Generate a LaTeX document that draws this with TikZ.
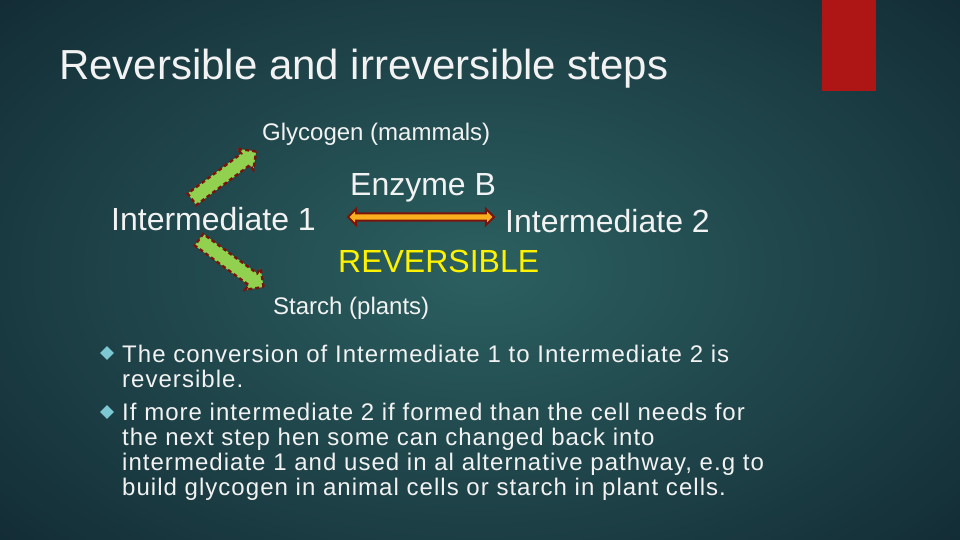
\documentclass[tikz,border=0pt]{standalone}
\usepackage{fontspec}
\setmainfont{Liberation Sans}
\newfontfamily\widesans[LetterSpace=4.3]{Liberation Sans}
\usepackage{tikz}
\usetikzlibrary{shapes.arrows,shapes.geometric}

\definecolor{slidebg}{RGB}{28,64,70}
\definecolor{slidein}{RGB}{44,96,96}
\definecolor{slideout}{RGB}{18,42,52}
\definecolor{barred}{RGB}{174,22,22}
\definecolor{leafgreen}{RGB}{146,208,80}
\definecolor{rimred}{RGB}{122,20,10}
\definecolor{amber}{RGB}{250,175,30}
\definecolor{bulletcyan}{RGB}{125,200,210}
\definecolor{plaintext}{RGB}{242,242,242}

\begin{document}
\begin{tikzpicture}[x=1pt, y=-1pt,
    txt/.style = {inner sep=0pt, anchor=base west, text=plaintext},
    big/.style = {txt, font=\fontsize{32}{36}\selectfont},
    small/.style = {txt, font=\fontsize{24}{28}\selectfont},
    para/.style = {txt, font=\widesans\fontsize{24}{25}\selectfont, align=left},
    branch/.style = {single arrow, fill=leafgreen, draw=rimred, dashed, dash pattern=on 4pt off 3pt,
        line width=2.4pt, inner xsep=0pt, inner ysep=6pt, single arrow head extend=6pt,
        minimum height=80pt, anchor=tail},
    swap/.style = {double arrow, fill=amber, draw=rimred, line width=2pt,
        inner xsep=0pt, inner ysep=2.6pt, double arrow head extend=4.5pt, minimum height=146pt},
    bullet/.style = {diamond, fill=bulletcyan, inner sep=0pt, minimum size=14pt}]

    % Background
    \useasboundingbox (0,0) rectangle (960,540);
    \fill[slidebg] (0,0) rectangle (960,540);
    \shade[inner color=slidein, outer color=slideout] (-200,-150) rectangle (1160,690);
    \fill[barred] (822,0) rectangle (876,91);

    % Nodes
    \node[txt, font=\fontsize{42}{46}\selectfont] (title) at (59,80) {Reversible and irreversible steps};
    \node[small] (glyc) at (262,141) {Glycogen (mammals)};
    \node[big] (int1) at (111,230) {Intermediate 1};
    \node[big] (enz) at (350,196) {Enzyme B};
    \node[big] (int2) at (505,232) {Intermediate 2};
    \node[big, text=yellow] (rev) at (338,272) {REVERSIBLE};
    \node[small] (starch) at (273,314) {Starch (plants)};

    % Arrows
    \coordinate (uptail) at (191,200);
    \coordinate (lowtail) at (198,239);
    \node[branch, rotate=36.7] (up) at (uptail) {};
    \node[branch, rotate=-36.2] (low) at (lowtail) {};
    \node[swap] (both) at (421,217) {};

    % Bullets
    \node[bullet] (b1) at (107,353) {};
    \node[bullet] (b2) at (107,412) {};
    \node[para] (p1) at (122,387)
        {The conversion of Intermediate 1 to Intermediate 2 is\\reversible.};
    \node[para] (p2) at (122,495)
        {If more intermediate 2 if formed than the cell needs for\\the next step hen some can changed back into\\intermediate 1 and used in al alternative pathway, e.g to\\build glycogen in animal cells or starch in plant cells.};
\end{tikzpicture}
\end{document}
